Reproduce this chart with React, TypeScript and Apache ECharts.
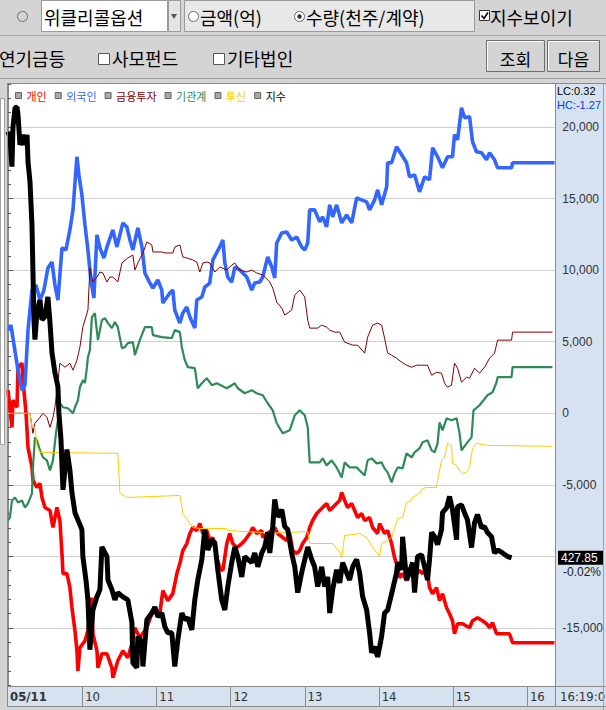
import React, { useEffect, useRef } from "react";
import * as echarts from "echarts";

const W = 606;
const H = 710;
const KR = "'Noto Sans CJK KR', 'Noto Sans', sans-serif";
const NUM = "'Liberation Sans', Arial, sans-serif";
const NARROW = "'Liberation Sans Narrow', 'DejaVu Sans Condensed', 'Roboto Condensed', 'Liberation Sans', sans-serif";

const legendNames = ["개인", "외국인", "금융투자", "기관계", "투신", "지수"];
const legendColors = ["#ff0000", "#3366ff", "#800000", "#2e8b57", "#ffcc00", "#000000"];
const lineWidths = [3.6, 3.6, 1, 2.2, 1, 5];
const hourLabels = ["05/11", "10", "11", "12", "13", "14", "15", "16"];
const hourMinutes = [0, 60, 120, 180, 240, 300, 360, 420];
const timeMax = 443;
const yMin = -20000;
const yMax = 25000;
const yStep = 5000;
const labelMin = -15000;
const labelMax = 20000;
const hiddenLabel = -10000; // covered by the index price tag
const idxMin = 425.49;
const idxMax = 436.21;
const lastIndex = 427.85;
const lastIndexText = "427.85";
const changeText = "-0.02%";
const lcText = "LC:0.32";
const hcText = "HC:-1.27";
const clockText = "16:19:0";

// [minutes after 09:00, value (천주/계약)]
const individual = [[0,1610],[3.2,-980],[4,910],[7.3,420],[8.1,3220],[11.3,3500],[12.1,2310],[14.6,0],[16.2,-2380],[19.4,-3780],[20.2,-4690],[23.4,-5180],[25.9,-4900],[27.5,-5880],[29.9,-6580],[34,-6790],[36.4,-7980],[39.6,-6580],[42,-7490],[43.7,-9800],[44.5,-11200],[47.7,-11200],[50.1,-12180],[51.8,-13580],[54.2,-15190],[55.8,-16590],[56.6,-17990],[58.2,-16380],[62.3,-15890],[64.7,-15190],[67.9,-12880],[68.7,-15400],[72,-16590],[72.8,-17780],[76,-16800],[80.1,-16800],[84.1,-17780],[84.9,-18480],[88.9,-17290],[93,-16590],[97,-17080],[100.3,-16100],[102.7,-14980],[106.7,-15680],[112.4,-14980],[116.4,-14000],[120.5,-13790],[122.9,-14000],[125.3,-12390],[129.4,-13090],[133.4,-12600],[136.7,-11200],[139.1,-10500],[141.5,-9590],[144.7,-9100],[147.2,-8400],[149.6,-7980],[152.8,-8190],[155.3,-7700],[157.7,-8400],[160.9,-8190],[163.3,-8890],[165.8,-8680],[169,-10080],[171.4,-10780],[173.9,-10990],[177.1,-9100],[179.5,-8400],[181.9,-9100],[185.2,-9380],[189.2,-9100],[191.6,-8890],[195.7,-8400],[198.1,-7980],[201.3,-8400],[205.4,-8190],[206.2,-8680],[209.4,-8400],[213.5,-8190],[215.9,-7980],[218.3,-8400],[222.4,-8680],[225.6,-8890],[228,-8400],[230.5,-9590],[233.7,-9800],[236.1,-9590],[238.5,-9100],[241.8,-8680],[244.2,-7980],[246.6,-7490],[249.9,-7000],[252.3,-6790],[254.7,-6580],[257.9,-6300],[260.4,-6790],[262.8,-6580],[266,-6300],[268.5,-6090],[270.1,-5530],[272.5,-6090],[274.9,-6580],[278.2,-6300],[280.6,-6790],[283,-7280],[286.2,-7000],[288.7,-7490],[292.7,-7280],[295.1,-7980],[299.2,-8400],[300.8,-7700],[304.8,-8400],[307.3,-8190],[310.5,-9100],[312.9,-10080],[314.5,-10500],[317,-11480],[319.4,-11200],[322.6,-11690],[325,-10780],[327.5,-10990],[330.7,-11200],[333.1,-10990],[335.6,-11200],[338.8,-10780],[341.2,-12180],[343.7,-12600],[346.9,-12180],[349.3,-13090],[351.7,-12600],[355,-13580],[357.4,-14000],[359.8,-14490],[361.4,-15400],[363.9,-14700],[367.9,-14700],[373.6,-14980],[376,-14490],[380,-14280],[384.1,-14490],[387.3,-14700],[389.8,-14980],[392.2,-14630],[395.4,-15400],[405.9,-15400],[408.4,-16030],[442.3,-16030]];

const foreign = [[0,5810],[2.4,6160],[4.9,4760],[8.1,3010],[11.3,1610],[13.7,1960],[16.2,5810],[19.4,8610],[22.6,8960],[25.9,7910],[29.1,8610],[32.3,10150],[35.6,10570],[38,8960],[40.4,7910],[43.7,11550],[46.9,11410],[50.1,12810],[52.6,14210],[55,17010],[55.8,17920],[57.4,16660],[59.8,15260],[62.3,13160],[64.7,11410],[67.1,9310],[69.5,8050],[72,12460],[74.4,11550],[77.6,10850],[80.1,11620],[84.9,12810],[88.1,11620],[93,13300],[96.2,13020],[98.7,12110],[101.1,11410],[105.1,12950],[108.4,11620],[110.8,9800],[114.8,9100],[117.3,8750],[121.3,9310],[124.5,8610],[125.3,7700],[131,8400],[133.4,8610],[135,7210],[139.1,6300],[141.5,7000],[144.7,7420],[147.2,6720],[151.2,5950],[152.8,7910],[156.9,8120],[159.3,8820],[163.3,9100],[165.8,10710],[171.4,11620],[173.9,12110],[175.5,10500],[177.9,9520],[181.1,9170],[183.6,10220],[187.6,10010],[193.3,9520],[197.3,8610],[199.7,9100],[203.8,9170],[206.2,9520],[210.2,10920],[213.5,10220],[215.9,9450],[217.5,11900],[221.6,12600],[225.6,12670],[229.6,12110],[233.7,12320],[237.7,11620],[240.2,11410],[242.6,11900],[244.2,14210],[248.2,14210],[252.3,13370],[254.7,13720],[257.9,13020],[260.4,14560],[262.8,13720],[266,14560],[270.1,13300],[274.1,13860],[278.2,13300],[282.2,15050],[286.2,14910],[290.3,14770],[292.7,14210],[296.8,14910],[299.2,15610],[302.4,14560],[306.5,15820],[307.3,17500],[310.5,17500],[314.5,18620],[318.6,18060],[322.6,17500],[325,16520],[329.1,16660],[333.1,15470],[337.2,16520],[341.2,16310],[343.7,18550],[347.7,17920],[351.7,17150],[355.8,17920],[359.8,17920],[361.4,19460],[363.9,19110],[367.1,21350],[369.5,20650],[373.6,20720],[376,18970],[379.2,18270],[383.3,18200],[387.3,17710],[389.8,18200],[393.8,17710],[396.3,17150],[407.6,17150],[408.4,17500],[442.4,17500]];

const financial = [[0,0],[17.8,0],[20.2,-1400],[21.8,-700],[25.9,-280],[28.3,0],[31.5,-280],[34,-980],[36.4,-280],[38,420],[39.6,1610],[42,3500],[46.1,3220],[50.1,3500],[52.6,3010],[55.8,3710],[58.2,4620],[60.6,6020],[64.7,7210],[66.3,10150],[68.7,9170],[72,9520],[74.4,9870],[76.8,9800],[80.1,9170],[82.5,9520],[84.9,9520],[88.9,9170],[92.2,10500],[97,10850],[101.1,11060],[102.7,10010],[105.1,10500],[109.2,11200],[112.4,11970],[116.4,11760],[117.3,11270],[124.5,11270],[127,11200],[133.4,11200],[135,11620],[139.1,11760],[141.5,10920],[144.7,10850],[149.6,10710],[152.8,10570],[155.3,9870],[157.7,10500],[160.9,10570],[163.3,10500],[167.4,9870],[171.4,10220],[177.1,10010],[181.1,10360],[183.6,10500],[187.6,10010],[193.3,9870],[197.3,10010],[201.3,9800],[206.2,9660],[211.9,9170],[214.3,8750],[217.5,7770],[221.6,7350],[224,6860],[229.6,7210],[232.1,8260],[236.1,8610],[240.2,8120],[242.6,6510],[244.2,5950],[250.7,5950],[253.9,6160],[257.9,6020],[260.4,5810],[264.4,5670],[268.5,5670],[272.5,4970],[279,4760],[283,4760],[288.7,4200],[291.1,5320],[295.1,6160],[299.2,6300],[302.4,6160],[304.8,5250],[307.3,4200],[310.5,4060],[314.5,3850],[318.6,3570],[322.6,3360],[326.7,3220],[330.7,3360],[334.8,3360],[339.6,3360],[342.9,2660],[346.9,2870],[350.9,2800],[353.4,2100],[355.8,1820],[359,1960],[361.4,3500],[363.9,3150],[367.1,2170],[371.2,2520],[373.6,2450],[377.6,3150],[381.7,2800],[385.7,3220],[389.8,3850],[393.8,4200],[396.3,5110],[407.6,5110],[408.4,5670],[440.7,5670]];

const institution = [[0,-7490],[1.6,-7280],[3.2,-6090],[5.7,-5880],[8.1,-6230],[11.3,-6090],[13.7,-6580],[16.2,-6300],[19.4,-5600],[20.2,-3780],[21.8,-1680],[23.4,-1890],[25.9,-2590],[28.3,-3080],[31.5,-3290],[34,-3990],[36.4,-3290],[38.8,-1400],[40.4,-490],[42,700],[44.5,420],[48.5,350],[52.6,0],[54.2,420],[56.6,910],[58.2,1820],[60.6,2310],[62.3,2100],[63.9,3220],[64.7,3920],[66.3,4410],[67.9,6720],[70.3,7000],[72.8,5110],[76,6510],[78.4,6650],[80.9,6300],[84.1,5950],[86.5,6370],[88.9,6020],[92.2,4550],[94.6,4620],[97,4900],[101.1,4970],[102.7,4060],[106.7,5110],[110.8,6020],[116.4,6020],[117.3,5460],[124.5,5320],[132.6,5250],[135,5810],[139.1,5670],[140.7,4620],[143.1,3710],[145.6,3220],[151.2,3150],[153.6,1750],[156.9,2100],[160.9,2450],[165,1960],[169,2100],[177.1,1750],[181.1,1960],[183.6,2100],[186,1750],[191.6,1400],[197.3,1610],[201.3,1400],[206.2,1260],[210.2,700],[214.3,210],[217.5,-700],[222.4,-1400],[228,-1190],[232.1,-140],[236.1,210],[240.2,-140],[242.6,-980],[244.2,-3430],[252.3,-3430],[254.7,-3150],[257.9,-3640],[262,-3290],[266,-3780],[270.1,-4480],[272.5,-3430],[276.5,-3780],[282.2,-3780],[286.2,-4130],[288.7,-4340],[291.1,-3290],[294.3,-3150],[298.4,-3500],[302.4,-3430],[304.8,-3850],[307.3,-4130],[310.5,-4830],[312.9,-4200],[315.4,-3780],[319.4,-3850],[322.6,-2800],[326.7,-3080],[329.1,-2730],[333.1,-2450],[335.6,-2030],[339.6,-1890],[342.9,-2590],[345.3,-2730],[347.7,-2100],[349.3,-630],[351.7,-1190],[355,-350],[359,-490],[363.1,-350],[365.5,-1400],[367.1,-2590],[371.2,-2100],[375.2,-1680],[376.8,210],[381.7,560],[388.1,1260],[392.2,1470],[395.4,2170],[396.3,2520],[407.6,2520],[408.4,3220],[440.7,3220]];

const trust = [[0,0],[17.8,0],[19.4,-980],[21.8,-980],[23.4,-2240],[25.9,-2730],[88.9,-2800],[90.6,-5600],[96.2,-5880],[139.1,-5740],[141.5,-7000],[145.6,-7490],[149.6,-7980],[155.3,-8050],[177.1,-8050],[177.9,-8190],[206.2,-8330],[207.8,-8400],[242.6,-8260],[244.2,-9100],[262.8,-9100],[268.5,-9730],[270.1,-10080],[272.5,-8540],[284.6,-8400],[290.3,-8680],[294.3,-9240],[298.4,-9730],[300.8,-9940],[302.4,-9100],[307.3,-8890],[310.5,-8680],[312.9,-7980],[315.4,-7350],[319.4,-7280],[322.6,-6230],[326.7,-6090],[327.5,-5880],[333.1,-5600],[335.6,-5250],[339.6,-5180],[346.9,-5180],[347.7,-4690],[350.9,-3290],[353.4,-3080],[355.8,-2100],[359,-2240],[359.8,-3500],[363.1,-3640],[365.5,-3990],[367.9,-4200],[371.2,-4130],[373.6,-3780],[376,-2450],[379.2,-2100],[387.3,-2240],[440.7,-2310]];

// index (지수) on its own hidden scale
const indexLevel = [[0,434.94],[1.6,434.84],[3.2,434.36],[4,435.01],[5.7,435.34],[7.3,435.35],[8.1,435.22],[9.7,434.72],[12.1,434.89],[13.7,434.72],[15.4,434.89],[16.2,434.44],[17.8,434.11],[19.4,433.39],[20.2,432.61],[21,431.81],[21.8,431.48],[23.4,431.93],[25.9,432.14],[27.5,431.81],[29.9,431.86],[32.3,432.19],[34,431.76],[35.6,431.26],[38,430.93],[40.4,430.7],[41.2,430.26],[42.9,429.81],[44.5,428.98],[47.7,429.65],[50.1,429.31],[51.8,428.93],[54.2,428.6],[56.6,428.48],[59.8,428.32],[60.6,427.87],[63.1,427.48],[64.7,427.15],[66.3,426.32],[68.7,426.98],[72,427.2],[74.4,427.32],[76,428.03],[80.1,427.87],[80.9,427.48],[84.1,427.32],[86.5,427.15],[88.9,427.27],[93,427.2],[97,427.15],[100.3,426.77],[101.1,426.1],[104.3,426.02],[105.1,426.54],[108.4,426.44],[109.2,426.04],[112.4,426.82],[116.4,426.93],[118.9,427.03],[121.3,426.87],[124.5,426.93],[127,426.7],[129.4,426.6],[132.6,426.6],[135,426.04],[137.5,426.49],[140.7,426.93],[143.1,426.82],[145.6,426.85],[148.8,426.65],[151.2,427.15],[153.6,427.48],[156.9,427.82],[159.3,428.32],[161.7,427.98],[165,428.15],[167.4,428.1],[169.8,427.65],[173,427.15],[175.5,426.98],[177.9,427.37],[181.1,427.77],[183.6,428.03],[186,427.87],[189.2,427.53],[191.6,427.87],[194.1,427.82],[197.3,427.77],[199.7,427.93],[202.2,427.7],[205.4,427.93],[207.8,428.03],[210.2,428.27],[211.9,427.93],[214.3,428.37],[215.9,428.82],[218.3,428.53],[221.6,428.65],[224,428.37],[226.4,428.32],[229.6,427.93],[232.1,427.7],[234.5,427.27],[237.7,427.6],[240.2,427.82],[242.6,428.03],[245.8,427.82],[248.2,427.7],[250.7,427.37],[253.9,427.7],[256.3,427.37],[258.8,427.53],[260.4,426.93],[262.8,427.32],[266,427.65],[268.5,427.43],[270.9,427.77],[274.1,427.6],[276.5,427.48],[279,427.7],[282.2,427.82],[284.6,427.6],[287.1,427.2],[290.3,426.98],[292.7,426.6],[294.3,426.27],[296.8,426.37],[299.2,426.2],[302.4,426.54],[304.8,426.93],[307.3,426.98],[311.3,427.32],[314.5,427.6],[315.4,427.77],[318.6,427.65],[319.4,428.2],[322.6,427.48],[325,427.6],[327.5,427.77],[329.1,427.27],[331.5,427.87],[334.8,427.9],[337.2,427.7],[339.6,427.48],[341.2,427.82],[342.9,428.27],[345.3,428.2],[347.7,428.07],[350.9,428.32],[351.7,428.6],[355,428.68],[357.4,428.87],[359.8,428.65],[363.1,428.15],[363.9,428.7],[367.1,428.73],[369.5,428.6],[371.9,428.48],[375.2,428.02],[377.6,428.43],[380,428.57],[383.3,428.35],[385.7,428.37],[388.1,428.27],[391.4,428.2],[393.8,427.93],[396.3,427.98],[400.3,427.93],[404.4,427.87],[407.6,427.85]];

const seriesData = [individual, foreign, financial, institution, trust, indexLevel];

type El = Record<string, unknown>;

const rect = (x: number, y: number, w: number, h: number, fill: string, stroke = "none", z = 11): El => ({
  type: "rect", shape: { x, y, width: w, height: h }, style: { fill, stroke, lineWidth: 1 }, z, silent: true,
});
const ln = (x1: number, y1: number, x2: number, y2: number, stroke: string, z = 12, lw = 1): El => ({
  type: "line", shape: { x1, y1, x2, y2 }, style: { stroke, lineWidth: lw }, z, silent: true,
});
const txt = (x: number, y: number, t: string, o: { size?: number; fill?: string; family?: string; weight?: string; align?: string; z?: number } = {}): El => ({
  type: "text", x, y, z: o.z ?? 13, silent: true,
  style: {
    text: t, fill: o.fill ?? "#000", fontSize: o.size ?? 18, fontFamily: o.family ?? KR,
    fontWeight: o.weight ?? "normal", align: o.align ?? "left", verticalAlign: "middle",
  },
});
const circ = (cx: number, cy: number, r: number, fill: string, stroke: string, z = 12): El => ({
  type: "circle", shape: { cx, cy, r }, style: { fill, stroke, lineWidth: 1 }, z, silent: true,
});

export default function App() {
  const ref = useRef<HTMLDivElement>(null);
  useEffect(() => {
    const el = ref.current;
    if (!el) return;
    const chart = echarts.init(el, null, { renderer: "svg" });
    chart.setOption({
      animation: false,
      grid: { left: 8, right: 50, top: 55.43, bottom: 10.43, containLabel: false },
      xAxis: { type: "value", min: 0, max: timeMax, show: false },
      yAxis: [
        {
          type: "value", position: "right", min: yMin, max: yMax, interval: yStep,
          axisLine: { show: true, lineStyle: { color: "#8a8a8a" } },
          axisTick: { show: true, length: 5, lineStyle: { color: "#555" } },
          minorTick: { show: true, splitNumber: 5, length: 3, lineStyle: { color: "#555" } },
          splitLine: { show: true, lineStyle: { color: "#cfcfcf", width: 1 } },
          axisLabel: {
            margin: 7, color: "#333", fontSize: 12, fontFamily: NUM,
            formatter: (v: number) =>
              v < labelMin || v > labelMax || v === hiddenLabel ? "" : v.toLocaleString("en-US"),
          },
        },
        { type: "value", min: idxMin, max: idxMax, show: false },
      ],
      legend: {
        left: 10, top: 85, icon: "rect", itemWidth: 6, itemHeight: 6, itemGap: 8,
        selectedMode: false,
        itemStyle: { color: "#a8a8a8", borderColor: "#666", borderWidth: 1 },
        textStyle: { fontSize: 11, fontFamily: KR },
        data: legendNames.map((n, i) => ({ name: n, textStyle: { color: legendColors[i] } })),
      },
      series: legendNames.map((n, i) => ({
        name: n, type: "line", data: seriesData[i], yAxisIndex: i === 5 ? 1 : 0,
        showSymbol: false, symbol: "none", silent: true,
        lineStyle: { color: legendColors[i], width: lineWidths[i] },
        itemStyle: { color: legendColors[i] },
      })),
    });

    const xPix = (m: number) => chart.convertToPixel({ xAxisIndex: 0 }, m) as number;
    const yIdx = chart.convertToPixel({ yAxisIndex: 1 }, lastIndex) as number;
    const plotRight = xPix(timeMax);

    const g: El[] = [];
    // backgrounds
    g.push(rect(0, 0, W, H, "#d4d4d4", "none", -6));
    g.push(rect(8, 84, plotRight - 8, 602, "#ffffff", "none", -5));
    g.push(rect(plotRight, 84, W - plotRight, 602, "#d6e2f0", "none", -5));
    g.push(rect(0.5, 98.5, 4, 346, "#ffffff", "#a0a0a0", -4));
    // toolbar cover
    g.push(rect(0, 0, W, 83, "#d4d4d4", "none", 10));
    g.push(circ(22.5, 16.5, 5, "none", "#6b6b6b"));
    g.push(rect(41.5, 0.5, 126, 31, "#ffffff", "#9a9a9a", 11));
    g.push(txt(44, 17, "위클리콜옵션"));
    g.push(rect(168.5, 0.5, 12, 31, "#e4e4e4", "#9a9a9a", 11));
    g.push({ type: "polygon", shape: { points: [[171, 14], [177, 14], [174, 19]] }, style: { fill: "#555" }, z: 12, silent: true });
    g.push(rect(184.5, 0.5, 290, 31, "#e8e8e8", "#9a9a9a", 11));
    g.push(circ(193.5, 16.5, 5, "#ffffff", "#666"));
    g.push(txt(200, 17, "금액(억)"));
    g.push(circ(299.5, 16.5, 5, "#ffffff", "#666"));
    g.push(circ(299.5, 16.5, 2.2, "#333", "none"));
    g.push(txt(306, 17, "수량(천주/계약)"));
    g.push(rect(479.5, 10.5, 10, 10, "#ffffff", "#333", 12));
    g.push({ type: "polyline", shape: { points: [[481.5, 15.5], [484, 18.5], [488, 12.5]] }, style: { stroke: "#000", lineWidth: 1.6, fill: "none" }, z: 13, silent: true });
    g.push(txt(490, 17, "지수보이기"));
    g.push(ln(0, 35.5, W, 35.5, "#a8a8a8"));
    g.push(txt(-1, 58, "연기금등"));
    g.push(rect(98.5, 53.5, 11, 11, "#ffffff", "#555", 12));
    g.push(txt(112, 58, "사모펀드"));
    g.push(rect(213.5, 53.5, 11, 11, "#ffffff", "#555", 12));
    g.push(txt(227, 58, "기타법인"));
    g.push(rect(486.5, 40.5, 58, 31, "#d4d4d4", "#6e6e6e", 11));
    g.push(ln(487.5, 41.5, 543, 41.5, "#ffffff"));
    g.push(ln(487.5, 41.5, 487.5, 70.5, "#ffffff"));
    g.push(txt(515.5, 58, "조회", { align: "center", size: 17 }));
    g.push(rect(547.5, 40.5, 52, 31, "#d4d4d4", "#6e6e6e", 11));
    g.push(ln(548.5, 41.5, 598, 41.5, "#ffffff"));
    g.push(ln(548.5, 41.5, 548.5, 70.5, "#ffffff"));
    g.push(txt(573.5, 58, "다음", { align: "center", size: 17 }));
    g.push(ln(0, 78.5, W, 78.5, "#a0a0a0"));
    // chart borders
    g.push(ln(7, 83.5, W, 83.5, "#8c8c8c", 14));
    g.push(ln(7.5, 83, 7.5, 706, "#8c8c8c", 14));
    g.push(ln(603.5, 84, 603.5, 710, "#a0a0a0", 14));
    // right panel texts
    g.push(txt(557, 91, lcText, { size: 11, family: NUM, fill: "#000" }));
    g.push(txt(557, 104.5, hcText, { size: 11, family: NUM, fill: "#0046d5" }));
    g.push(rect(558, yIdx - 7, 46, 14, "#000000", "none", 12));
    g.push(txt(561, yIdx, lastIndexText, { size: 12, family: NUM, fill: "#ffffff" }));
    g.push(txt(563, yIdx + 14, changeText, { size: 12, family: NUM, fill: "#222" }));
    // bottom panel
    g.push(rect(8, 686, plotRight - 8, 20, "#d6e2f0", "none", 10));
    g.push(rect(plotRight, 686, W - plotRight, 20, "#d6e2f0", "none", 10));
    g.push(rect(0, 706, W, 4, "#d4d4d4", "none", 10));
    g.push(ln(7, 686.5, W, 686.5, "#8c8c8c"));
    g.push(ln(7, 706.5, W, 706.5, "#8c8c8c"));
    g.push(ln(Math.round(plotRight) + 0.5, 84, Math.round(plotRight) + 0.5, 706, "#8a8a8a", 12));
    hourMinutes.forEach((m, i) => {
      const xp = xPix(m);
      if (i > 0) g.push(ln(Math.round(xp) + 0.5, 687, Math.round(xp) + 0.5, 706, "#8c8c8c"));
      g.push(txt(i === 0 ? 10 : xp + 3, 696.5, hourLabels[i], { size: 13, family: NARROW, fill: "#333", weight: i === 0 ? "bold" : "normal" }));
    });
    g.push(txt(560, 696.5, clockText, { size: 13, family: NARROW, fill: "#333" }));

    chart.setOption({ graphic: { elements: g } });
    return () => chart.dispose();
  }, []);
  return <div ref={ref} style={{ position: "absolute", left: 0, top: 0, width: W, height: H }} />;
}
